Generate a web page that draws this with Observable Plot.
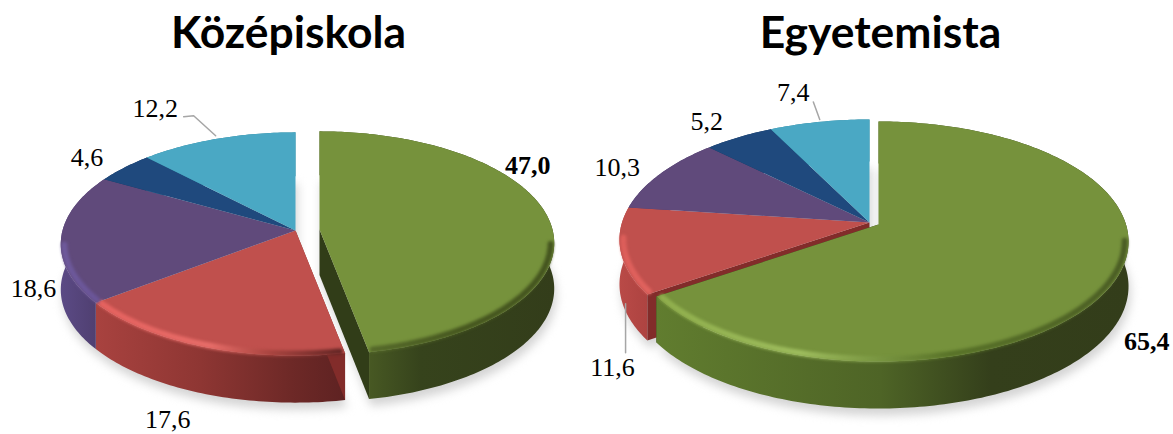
<!DOCTYPE html>
<html>
<head>
<meta charset="utf-8">
<style>html,body{margin:0;padding:0;background:#fff}svg{display:block}</style>
<script src="https://cdn.jsdelivr.net/npm/d3@7"></script>
<script src="https://cdn.jsdelivr.net/npm/@observablehq/plot@0.6"></script>
</head>
<body>
<div id="chart"></div>
<script>
// Data, clockwise from 12 o'clock
const titles = ["Középiskola", "Egyetemista"];
const sliceKeys = ["green", "red", "purple", "blue", "cyan"];
const kozepiskola = [47.0, 17.6, 18.6, 4.6, 12.2];
const egyetemista = [65.4, 11.6, 10.3, 5.2, 7.4];
const tickLabels = [["47,0","17,6","18,6","4,6","12,2"],["65,4","11,6","10,3","5,2","7,4"]];

// Styles
const topColors = {green:"#76923c", red:"#c0504d", purple:"#604a7b", blue:"#1f497d", cyan:"#4aa8c4"};
const wallColors = {green:"#313d18", red:"#822c2a", purple:"#4f3f70", blue:"#17375e", cyan:"#31859c"};

// Perspective view of each pie
const views = [
  {cx:295, cy:230, A:233, B:110, k:0.121, depth:[44,47], explode:[24,-1], titleX:288,
   labelOffset:[[-21,-54],[-34,73.5],[-27.6,51],[-37,-10],[-62,-30]], leader:{cyan:[[-33.5,-22],[-23.5,-23],[-1.5,-3]]}},
  {cx:869, cy:222, A:247.5, B:117.6, k:0.1417, depth:[42,47], explode:[9,2], titleX:880,
   labelOffset:[[34,58],[-8,117],[-43,-6],[-32,-16],[-26,-29]], leader:{red:[[5,53],[5,102]],cyan:[[-6,-20],[0.4,-2.5]]}}
];

function project(view, angle, radius = 1) {
  const u = radius * Math.sin(angle), v = -radius * Math.cos(angle);
  const w = 1 - view.k * v;
  return {x: view.cx + view.A * u / w, y: view.cy + view.B * v / w, v};
}
const wallDepth = (view, v) => view.depth[0] + (view.depth[1] - view.depth[0]) * (v + 1) / 2;

function slices(values, view) {
  const total = d3.sum(values);
  let start = 0;
  return values.map((value, i) => {
    const a0 = start / total * 2 * Math.PI;
    start += value;
    const a1 = start / total * 2 * Math.PI;
    return {key: sliceKeys[i], value, a0, a1, off: i === 0 ? view.explode : [0, 0]};
  });
}
function arc(view, s, radius = 1) {
  const n = Math.max(2, Math.ceil((s.a1 - s.a0) / (Math.PI / 180)));
  return d3.range(n + 1).map(i => {
    const p = project(view, s.a0 + (s.a1 - s.a0) * i / n, radius);
    return {x: p.x + s.off[0], y: p.y + s.off[1], v: p.v};
  });
}
const topPoly = (view, s) => [{x: view.cx + s.off[0], y: view.cy + s.off[1]}, ...arc(view, s)];
const drop = (view, pts, extra = [0, 0]) =>
  pts.map(p => ({x: p.x + extra[0], y: p.y + wallDepth(view, p.v ?? 0) + extra[1], v: p.v}));
const outerWall = (view, s) => { const a = arc(view, s); return [...a, ...drop(view, a).reverse()]; };
function radialWall(view, s, end) {
  const a = arc(view, s);
  const rim = end ? a[a.length - 1] : a[0];
  const apex = {x: view.cx + s.off[0], y: view.cy + s.off[1], v: 0};
  return [apex, rim, ...drop(view, [rim]), ...drop(view, [apex])];
}
// bevel along the front of the rim, stopping just short of the slice's cut edges
const rimLine = (view, s) => arc(view, s, 0.985).slice(1, -1).filter(d => d.v > 0.12);

const poly = (pts, fill, extra = {}) => Plot.line(pts, {x: "x", y: "y", fill, stroke: "none", curve: "linear", ...extra});

// Gradients for walls and bevels, horizontal in picture space
const gradients = {
  wall0red:[[97,"#a8423f"],[200,"#8e3633"],[290,"#6e2927"],[345,"#5e2222"]],
  wall0purple:[[60,"#5b4a85"],[97,"#4f3f70"]],
  wall0green:[[370,"#475823"],[420,"#36431c"],[555,"#333d1a"]],
  wall1green:[[655,"#617d2f"],[880,"#4e6426"],[990,"#343f1b"],[1130,"#333d1a"]],
  wall1red:[[619,"#b94a47"],[660,"#a8403e"]],
  rim0red:[[97,"#e5625f"],[210,"#e66c68"],[270,"#a8443f"],[345,"#5e2322"]],
  rim0purple:[[60,"#6e5a9c"],[97,"#6a5598"]],
  rim0green:[[370,"#55692a"],[460,"#46571f"],[555,"#44541f"]],
  rim1green:[[655,"#8fae4c"],[800,"#9dbc5d"],[950,"#587228"],[1130,"#4a5c24"]],
  rim1red:[[619,"#dd5e5a"],[660,"#e26560"]]
};
const defsMark = () => {
  const defs = d3.create("svg:defs");
  for (const [id, stops] of Object.entries(gradients)) {
    const g = defs.append("linearGradient").attr("id", id).attr("gradientUnits", "userSpaceOnUse")
      .attr("x1", stops[0][0]).attr("x2", stops[stops.length - 1][0]).attr("y1", 0).attr("y2", 0);
    const span = stops[stops.length - 1][0] - stops[0][0];
    for (const [x, c] of stops) g.append("stop").attr("offset", (x - stops[0][0]) / span).attr("stop-color", c);
  }
  return defs.node();
};

const marks = [defsMark];
const labels = [], leaders = [];
[kozepiskola, egyetemista].forEach((values, p) => {
  const view = views[p];
  const ss = slices(values, view);
  // shadow
  const shadow = ss.flatMap(s => drop(view, [...topPoly(view, s)], [2, 7]).map(d => ({...d, z: s.key})));
  marks.push(Plot.line(shadow, {x:"x", y:"y", z:"z", fill:"#d4d4d4", stroke:"none", imageFilter:"blur(5px)"}));

  const rest = ss.slice(1), first = ss[0];
  const wallFill = s => gradients[`wall${p}${s.key}`] ? `url(#wall${p}${s.key})` : wallColors[s.key];
  // resting slices
  for (const s of rest) marks.push(poly(outerWall(view, s), wallFill(s)));
  marks.push(poly(radialWall(view, ss[1], false), wallColors.red));
  for (const s of rest) marks.push(poly(topPoly(view, s), topColors[s.key]));
  for (const s of rest) {
    if (!gradients[`rim${p}${s.key}`]) continue;
    marks.push(Plot.line(rimLine(view, s), {x:"x", y:"y", stroke:`url(#rim${p}${s.key})`, strokeWidth:6, fill:"none", imageFilter:"blur(1.4px)"}));
  }
  // exploded slice
  marks.push(poly(radialWall(view, first, true), wallColors.green));
  marks.push(poly(radialWall(view, first, false), wallColors.green));
  marks.push(poly(outerWall(view, first), wallFill(first)));
  marks.push(poly(topPoly(view, first), topColors.green));
  marks.push(Plot.line(rimLine(view, first), {x:"x", y:"y", stroke:`url(#rim${p}green)`, strokeWidth:6, fill:"none", imageFilter:"blur(1.4px)"}));

  // labels anchored to the rim at each slice's mid angle
  ss.forEach((s, i) => {
    const m = project(view, (s.a0 + s.a1) / 2);
    const o = view.labelOffset[i];
    labels.push({x: m.x + s.off[0] + o[0], y: m.y + s.off[1] + o[1], text: tickLabels[p][i], bold: i === 0});
    const l = view.leader[s.key];
    if (l) leaders.push({pts: l.map(q => ({x: m.x + q[0], y: m.y + q[1]}))});
  });
});
for (const l of leaders) marks.push(Plot.line(l.pts, {x:"x", y:"y", stroke:"#a6a6a6", strokeWidth:1.5}));
marks.push(Plot.text(labels.filter(d => !d.bold), {x:"x", y:"y", text:"text", fontFamily:"Liberation Serif", fontSize:26, fill:"#000"}));
marks.push(Plot.text(labels.filter(d => d.bold), {x:"x", y:"y", text:"text", fontFamily:"Liberation Serif", fontWeight:"bold", fontSize:26, fill:"#000"}));
marks.push(Plot.text(titles.map((t, i) => ({t, x: views[i].titleX})), {x:"x", y:()=>33, text:"t", fontFamily:"Lato", fontWeight:"bold", fontSize:44.4, fill:"#000"}));

const chart = Plot.plot({
  width: 1173, height: 434, margin: 0,
  x: {domain: [0, 1173], range: [0, 1173], axis: null},
  y: {domain: [0, 434], range: [0, 434], axis: null},
  style: {background: "#fff", overflow: "hidden"},
  marks
});
document.getElementById("chart").append(chart);
</script>
</body>
</html>
